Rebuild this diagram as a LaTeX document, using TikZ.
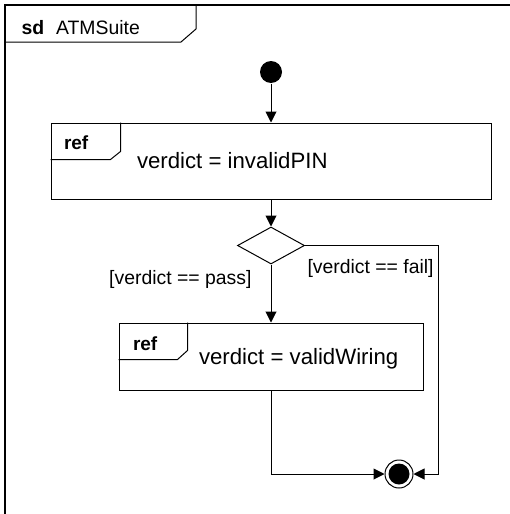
\documentclass[tikz,border=0pt]{standalone}
\usepackage{fontspec}
\setmainfont{Liberation Sans}
\usetikzlibrary{arrows.meta,positioning,shapes.geometric}

\begin{document}
\begin{tikzpicture}[->,>={Triangle[length=11pt,width=11pt]},x=1pt,y=-1pt,line width=1pt,
        startdot/.style={circle,fill,inner sep=0pt,minimum size=22pt},
        refbox/.style={draw,rectangle,inner sep=0pt},
        decision/.style={draw,diamond,inner sep=0pt,minimum width=67pt,minimum height=37pt},
        guard/.style={font=\fontsize{19.4}{23}\selectfont,inner sep=0pt},
        call/.style={font=\fontsize{22.2}{26}\selectfont,inner sep=0pt,anchor=base west},
        reflabel/.style={font=\fontsize{19}{22}\selectfont\bfseries,inner sep=0pt,anchor=base west}]
  \useasboundingbox (0,0) rectangle (510,514);

  % frame and its tab
  \draw[-,line width=1.3pt] (510,5) -- (5,5) -- (5,514);
  \draw[-] (5,42) -- (181,42) -- (196,29) -- (196,5);
  \node[guard,anchor=base west] (title) at (21,34) {\textbf{sd}\hspace{12pt}ATMSuite};

  \node[startdot] (start) at (271,72) {};
  \node[refbox,minimum width=440pt,minimum height=76pt] (ref1) [below=39pt of start] {};
  \node[decision] (dec) [below=27pt of ref1] {};
  \node[refbox,minimum width=304pt,minimum height=67pt] (ref2) [below=58pt of dec] {};
  \node[circle,draw,inner sep=0pt,minimum size=28pt] (final) at (399,474) {};
  \node[startdot,minimum size=21pt] (finaldot) at (final) {};

  % ref tabs
  \draw[-] ([xshift=70pt]ref1.north west) -- ++(0,29) -- ++(-10,8) -- ([yshift=-37pt]ref1.north west);
  \draw[-] ([xshift=69pt]ref2.north west) -- ++(0,28) -- ++(-10,9) -- ([yshift=-37pt]ref2.north west);
  \node[reflabel] (ref1tag) at ([xshift=13pt,yshift=-27pt]ref1.north west) {ref};
  \node[reflabel] (ref2tag) at ([xshift=14pt,yshift=-28pt]ref2.north west) {ref};
  \node[call] (ref1txt) at ([xshift=86pt,yshift=-46pt]ref1.north west) {verdict = invalidPIN};
  \node[call] (ref2txt) at ([xshift=80pt,yshift=-42pt]ref2.north west) {verdict = validWiring};

  \node[guard,anchor=base east] (pass) at (252,284) {[verdict == pass]};
  \node[guard,anchor=base west] (fail) at (307,273) {[verdict == fail]};

  \path (start) edge (ref1)
        (ref1) edge (dec)
        (dec) edge (ref2);
  \draw (dec.east) -| ([xshift=25pt]final.east) -- (final.east);
  \draw (ref2) |- (final);
\end{tikzpicture}
\end{document}
